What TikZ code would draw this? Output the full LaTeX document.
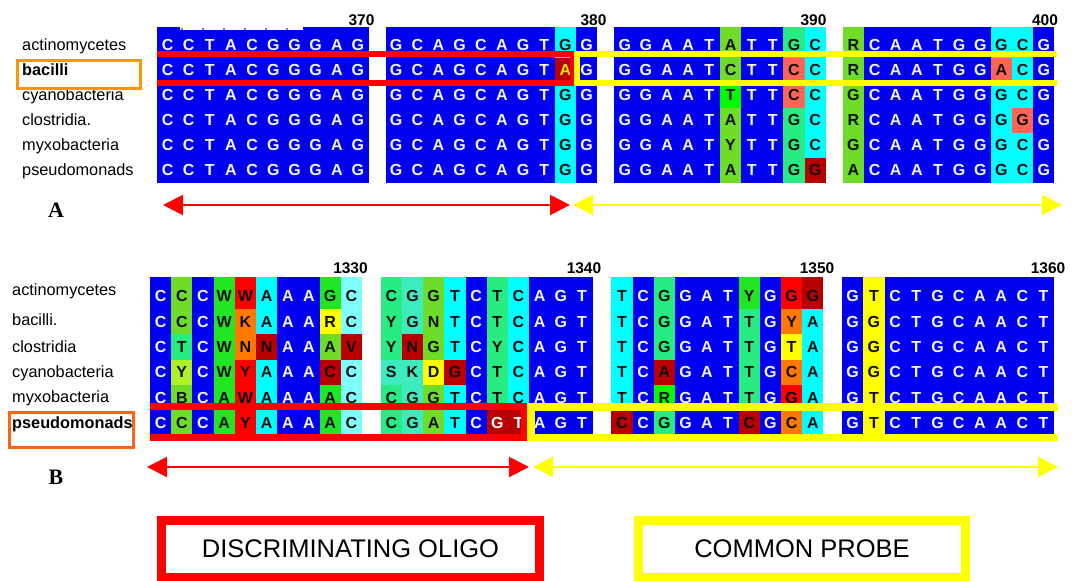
\documentclass[tikz,border=0pt]{standalone}
\usepackage{fontspec}
\setmainfont{Liberation Sans}
\setsansfont{Liberation Sans}
\newfontfamily\tagfont{Liberation Serif}
\usetikzlibrary{arrows.meta}
\definecolor{cell-b}{RGB}{0, 0, 240}
\definecolor{cell-c}{RGB}{0, 255, 255}
\definecolor{cell-l}{RGB}{128, 255, 255}
\definecolor{cell-g}{RGB}{34, 230, 34}
\definecolor{cell-k}{RGB}{110, 220, 40}
\definecolor{cell-m}{RGB}{40, 235, 130}
\definecolor{cell-t}{RGB}{60, 235, 190}
\definecolor{cell-n}{RGB}{0, 250, 0}
\definecolor{cell-v}{RGB}{175, 240, 40}
\definecolor{cell-y}{RGB}{255, 255, 0}
\definecolor{cell-o}{RGB}{255, 120, 0}
\definecolor{cell-r}{RGB}{255, 0, 0}
\definecolor{cell-d}{RGB}{185, 0, 0}
\definecolor{cell-w}{RGB}{185, 0, 0}
\definecolor{cell-a}{RGB}{185, 0, 0}
\definecolor{cell-s}{RGB}{255, 100, 85}
\definecolor{text-b}{RGB}{245, 245, 255}
\definecolor{text-w}{RGB}{255, 255, 255}
\definecolor{text-a}{RGB}{255, 230, 0}
\definecolor{text-c}{RGB}{15, 15, 15}
\colorlet{text-l}{text-c}
\colorlet{text-g}{text-c}
\colorlet{text-k}{text-c}
\colorlet{text-m}{text-c}
\colorlet{text-t}{text-c}
\colorlet{text-n}{text-c}
\colorlet{text-v}{text-c}
\colorlet{text-y}{text-c}
\colorlet{text-o}{text-c}
\colorlet{text-r}{text-c}
\colorlet{text-d}{text-c}
\colorlet{text-s}{text-c}
\definecolor{mark-red}{RGB}{255, 0, 0}
\definecolor{mark-yellow}{RGB}{255, 255, 0}
\definecolor{mark-orange}{RGB}{255, 150, 0}
\definecolor{mark-orange2}{RGB}{255, 100, 20}
\tikzset{
  seq letter/.style={inner sep=0pt, font=\bfseries\fontsize{16}{16}\selectfont},
  species/.style={anchor=base west, inner sep=0pt, font=\fontsize{16.3}{17}\selectfont},
  species bold/.style={species, font=\bfseries\fontsize{16.3}{17}\selectfont},
  pos num/.style={inner sep=0pt, font=\bfseries\fontsize{15.5}{16}\selectfont},
  panel tag/.style={inner sep=0pt, font=\tagfont\bfseries\fontsize{22}{22}\selectfont},
  span arrow/.style={line width=2pt, {Triangle[length=20pt,width=20pt]}-{Triangle[length=20pt,width=20pt]}},
  probe box/.style={line width=9pt, inner sep=0pt, minimum height=57pt, font=\fontsize{25.5}{26}\selectfont}
}
% one row of the alignment: x0, top, bottom, text y, name, cells
\newcommand{\seqrow}[6]{%
  \foreach \ltr/\clr [count=\i from 0] in {#6} {
    \pgfmathsetmacro{\xl}{#1 + int(\i/10)*\bstep + mod(\i,10)*\cw}
    \fill[fill=cell-\clr] (\xl,#2) rectangle ({\xl+\cw},#3);
    \node[seq letter, text=text-\clr] (#5-\i) at ({\xl+\cw/2},#4) {\ltr};
  }}
\begin{document}
\begin{tikzpicture}[x=1pt, y=-1pt]
\useasboundingbox (0,0) rectangle (1080,581);

% panel A
\def\cw{21.15}
\def\bstep{228.6}
\seqrow{157}{27}{57.5}{45}{a1}{C/b,C/b,T/b,A/b,C/b,G/b,G/b,G/b,A/b,G/b, G/b,C/b,A/b,G/b,C/b,A/b,G/b,T/b,G/c,G/b, G/b,G/b,A/b,A/b,T/b,A/k,T/b,T/b,G/m,C/c, R/k,C/b,A/b,A/b,T/b,G/b,G/b,G/c,C/c,G/b}
\seqrow{157}{57.5}{82.5}{70}{a2}{C/b,C/b,T/b,A/b,C/b,G/b,G/b,G/b,A/b,G/b, G/b,C/b,A/b,G/b,C/b,A/b,G/b,T/b,A/a,G/b, G/b,G/b,A/b,A/b,T/b,C/k,T/b,T/b,C/s,C/c, R/k,C/b,A/b,A/b,T/b,G/b,G/b,A/s,C/c,G/b}
\seqrow{157}{82.5}{107.5}{95}{a3}{C/b,C/b,T/b,A/b,C/b,G/b,G/b,G/b,A/b,G/b, G/b,C/b,A/b,G/b,C/b,A/b,G/b,T/b,G/c,G/b, G/b,G/b,A/b,A/b,T/b,T/n,T/b,T/b,C/s,C/c, G/k,C/b,A/b,A/b,T/b,G/b,G/b,G/c,C/c,G/b}
\seqrow{157}{107.5}{132.5}{120}{a4}{C/b,C/b,T/b,A/b,C/b,G/b,G/b,G/b,A/b,G/b, G/b,C/b,A/b,G/b,C/b,A/b,G/b,T/b,G/c,G/b, G/b,G/b,A/b,A/b,T/b,A/k,T/b,T/b,G/m,C/c, R/k,C/b,A/b,A/b,T/b,G/b,G/b,G/c,G/s,G/b}
\seqrow{157}{132.5}{157.5}{145}{a5}{C/b,C/b,T/b,A/b,C/b,G/b,G/b,G/b,A/b,G/b, G/b,C/b,A/b,G/b,C/b,A/b,G/b,T/b,G/c,G/b, G/b,G/b,A/b,A/b,T/b,Y/k,T/b,T/b,G/m,C/c, G/k,C/b,A/b,A/b,T/b,G/b,G/b,G/c,C/c,G/b}
\seqrow{157}{157.5}{182.5}{170}{a6}{C/b,C/b,T/b,A/b,C/b,G/b,G/b,G/b,A/b,G/b, G/b,C/b,A/b,G/b,C/b,A/b,G/b,T/b,G/c,G/b, G/b,G/b,A/b,A/b,T/b,A/k,T/b,T/b,G/m,G/d, A/k,C/b,A/b,A/b,T/b,G/b,G/b,G/c,C/c,G/b}
% ruler ticks
\fill[white] (180,26) rectangle (303,30);
\foreach \t in {182,203,...,287}
  \fill[black] (\t,29) circle (0.9);

\draw[mark-red, line width=6pt] (157,54) -- (573,54) -- (573,83) -- (157,83);
\draw[mark-yellow, line width=6pt] (1057,54) -- (577,54) -- (577,83) -- (1057,83);

\node[pos num] (n370) at (361.5,20) {370};
\node[pos num] (n380) at (593.5,20) {380};
\node[pos num] (n390) at (813.5,20) {390};
\node[pos num] (n400) at (1045,20) {400};

\node[species] (sa1) at (22,50.5) {actinomycetes};
\node[species bold] (sa2) at (22,75.5) {bacilli};
\node[species] (sa3) at (22,100.5) {cyanobacteria};
\node[species] (sa4) at (22,125.5) {clostridia.};
\node[species] (sa5) at (22,150.5) {myxobacteria};
\node[species] (sa6) at (22,175.5) {pseudomonads};
\draw[mark-orange, line width=3pt] (17,60) rectangle (140,88);

\node[panel tag] (tagA) at (56,210) {A};
\coordinate (a-left) at (163,205);
\coordinate (a-mid) at (570,205);
\coordinate (a-mid2) at (573,205);
\coordinate (a-right) at (1062,205);
\draw[span arrow, mark-red] (a-left) -- (a-mid);
\draw[span arrow, mark-yellow] (a-mid2) -- (a-right);

% panel B
\def\cw{21.2}
\def\bstep{230.7}
\seqrow{150}{277}{309}{296}{b1}{C/b,C/k,C/b,W/g,W/r,A/c,A/b,A/b,G/g,C/l, C/m,G/t,G/k,T/c,C/b,T/m,C/c,A/b,G/b,T/b, T/c,C/b,G/m,G/b,A/b,T/b,Y/g,G/b,G/r,G/d, G/b,T/y,C/b,T/b,G/b,C/b,A/b,A/b,C/b,T/b}
\seqrow{150}{309}{334}{321.5}{b2}{C/b,C/k,C/b,W/g,K/o,A/c,A/b,A/b,R/y,C/l, Y/m,G/t,N/k,T/c,C/b,T/m,C/c,A/b,G/b,T/b, T/c,C/b,G/m,G/b,A/b,T/b,T/m,G/b,Y/o,A/c, G/b,G/y,C/b,T/b,G/b,C/b,A/b,A/b,C/b,T/b}
\seqrow{150}{334}{359.5}{347}{b3}{C/b,T/m,C/b,W/g,N/o,N/d,A/b,A/b,A/k,V/d, Y/m,N/d,G/k,T/c,C/b,Y/m,C/c,A/b,G/b,T/b, T/c,C/b,G/m,G/b,A/b,T/b,T/m,G/b,T/y,A/c, G/b,G/y,C/b,T/b,G/b,C/b,A/b,A/b,C/b,T/b}
\seqrow{150}{359.5}{384.5}{372}{b4}{C/b,Y/v,C/b,W/g,Y/r,A/c,A/b,A/b,C/d,C/l, S/t,K/t,D/y,G/d,C/b,T/m,C/c,A/b,G/b,T/b, T/c,C/b,A/d,G/b,A/b,T/b,T/m,G/b,C/o,A/c, G/b,G/y,C/b,T/b,G/b,C/b,A/b,A/b,C/b,T/b}
\seqrow{150}{384.5}{410}{397.5}{b5}{C/b,B/k,C/b,A/g,W/r,A/c,A/b,A/b,A/g,C/l, C/m,G/t,G/k,T/c,C/b,T/m,C/c,A/b,G/b,T/b, T/c,C/b,R/n,G/b,A/b,T/b,T/m,G/b,G/r,A/c, G/b,T/y,C/b,T/b,G/b,C/b,A/b,A/b,C/b,T/b}
\seqrow{150}{410}{436}{423}{b6}{C/b,C/k,C/b,A/g,Y/r,A/c,A/b,A/b,A/g,C/l, C/m,G/t,A/k,T/c,C/b,G/w,T/w,A/b,G/b,T/b, C/d,C/b,G/m,G/b,A/b,T/b,C/d,G/b,C/o,A/c, G/b,T/y,C/b,T/b,G/b,C/b,A/b,A/b,C/b,T/b}

\draw[mark-red, line width=7.5pt] (150,406.5) -- (525,406.5) -- (525,437.5) -- (150,437.5);
\draw[mark-yellow, line width=7.5pt] (1058,407) -- (531,407) -- (531,437.5) -- (1058,437.5);

\node[pos num] (n1330) at (350.5,268) {1330};
\node[pos num] (n1340) at (584,268) {1340};
\node[pos num] (n1350) at (817,268) {1350};
\node[pos num] (n1360) at (1048,268) {1360};

\node[species] (sb1) at (12,295.5) {actinomycetes};
\node[species] (sb2) at (12,325.5) {bacilli.};
\node[species] (sb3) at (12,352.5) {clostridia};
\node[species] (sb4) at (12,377.5) {cyanobacteria};
\node[species] (sb5) at (12,402.5) {myxobacteria};
\node[species bold] (sb6) at (12,428.5) {pseudomonads};
\draw[mark-orange2, line width=3pt] (9,412) rectangle (133,447);

\node[panel tag] (tagB) at (56,477) {B};
\coordinate (b-left) at (147,467);
\coordinate (b-mid) at (529,467);
\coordinate (b-mid2) at (533,467);
\coordinate (b-right) at (1058,467);
\draw[span arrow, mark-red] (b-left) -- (b-mid);
\draw[span arrow, mark-yellow] (b-mid2) -- (b-right);

% legend
\node[probe box, draw=mark-red, minimum width=378pt] (oligo) at (350.5,549) {DISCRIMINATING OLIGO};
\node[probe box, draw=mark-yellow, minimum width=327pt] (probe) at (802,549) {COMMON PROBE};
\end{tikzpicture}
\end{document}
